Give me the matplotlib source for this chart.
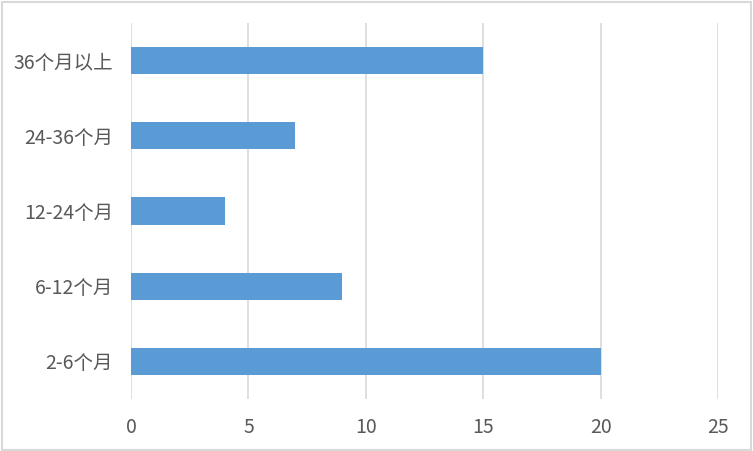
import matplotlib.pyplot as plt
from matplotlib.patches import Rectangle

plt.rcParams['font.family'] = ['Noto Sans CJK SC', 'DejaVu Sans']

# 数据
categories = ['2-6个月', '6-12个月', '12-24个月', '24-36个月', '36个月以上']
values = [20, 9, 4, 7, 15]
xticks = [0, 5, 10, 15, 20, 25]

text_color = '#595959'
grid_color = '#d9d9d9'
bar_color = '#5b9bd5'

fig = plt.figure(figsize=(7.53, 4.51), dpi=100)
ax = fig.add_axes([131 / 753, 1 - 399 / 451, 587 / 753, 376 / 451])

ax.barh(range(len(categories)), values, height=0.36, color=bar_color, zorder=3)

ax.set_xlim(0, 25)
ax.set_ylim(-0.5, len(categories) - 0.5)
ax.set_xticks(xticks)
ax.set_yticks(range(len(categories)))
ax.set_yticklabels(categories)

ax.grid(axis='x', color=grid_color, linewidth=1.2, zorder=0)
for s in ax.spines.values():
    s.set_visible(False)
ax.tick_params(axis='both', length=0, colors=text_color, labelsize=14)
ax.tick_params(axis='x', pad=13)
ax.tick_params(axis='y', pad=13)

# 外框
fig.patches.append(Rectangle((0.002, 0.003), 0.995, 0.993, transform=fig.transFigure,
                             fill=False, edgecolor=grid_color, linewidth=1.5))

fig.savefig('out.png', dpi=100)
